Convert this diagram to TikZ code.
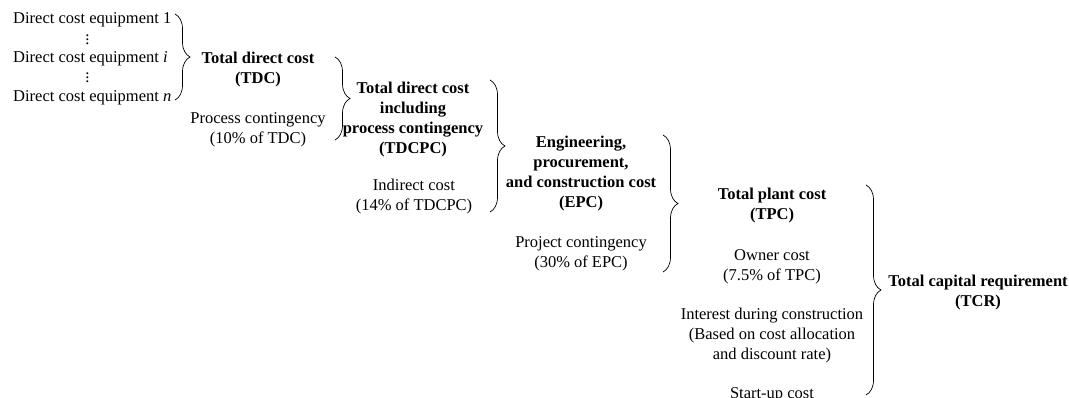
\documentclass[tikz,border=0pt]{standalone}
\usepackage{fontspec}
\setmainfont{Liberation Serif}
\usetikzlibrary{decorations.pathreplacing}
\newcommand{\eqdots}{\vbox{\baselineskip4pt \lineskiplimit0pt \hbox{.}\hbox{.}\hbox{.}}}
\tikzset{cost/.style = {align=center, inner sep=0pt, font=\fontsize{16.5}{20}\selectfont}}
\tikzset{total/.style = {cost, font=\fontsize{16.5}{20}\selectfont\bfseries}}
\tikzset{sumbrace/.style = {decorate, decoration={brace, amplitude=15pt}, line width=0.7pt}}

\begin{document}
\begin{tikzpicture}[x=1pt, y=-1pt]
            \useasboundingbox (0,0) rectangle (1069,398);
            \clip (0,0) rectangle (1069,398);

            % equipment items
            \node [cost, anchor=west] (eq1) at (13, 20) {Direct cost equipment 1};
            \node [cost, anchor=west] (eqi) at (13, 59) {Direct cost equipment \textit{i}};
            \node [cost, anchor=west] (eqn) at (13, 98) {Direct cost equipment \textit{n}};
            \node [cost] (dots1) at (87.5, 40) {\eqdots};
            \node [cost] (dots2) at (87.5, 78) {\eqdots};

            % cost levels
            \node [total] (tdc)    at (258,  70) {Total direct cost\\(TDC)};
            \node [cost]  (pcont)  at (258, 130) {Process contingency\\(10\% of TDC)};
            \node [total] (tdcpc)  at (413, 120) {Total direct cost\\including\\process contingency\\(TDCPC)};
            \node [cost]  (indir)  at (414, 197) {Indirect cost\\(14\% of TDCPC)};
            \node [total] (epc)    at (581, 174) {Engineering,\\procurement,\\and construction cost\\(EPC)};
            \node [cost]  (pjcont) at (581, 254) {Project contingency\\(30\% of EPC)};
            \node [total] (tpc)    at (772, 206) {Total plant cost\\(TPC)};
            \node [cost]  (owner)  at (772, 267) {Owner cost\\(7.5\% of TPC)};
            \node [cost]  (idc)    at (772, 336) {Interest during construction\\(Based on cost allocation\\and discount rate)};
            \node [cost]  (start)  at (772, 395) {Start-up cost};
            \node [total] (tcr)    at (978, 293) {Total capital requirement\\(TCR)};

            % brace ends
            \coordinate (b1t) at (175,  14);
            \coordinate (b1b) at (175, 100);
            \coordinate (b2t) at (335,  57);
            \coordinate (b2b) at (335, 140);
            \coordinate (b3t) at (490,  80);
            \coordinate (b3b) at (490, 212);
            \coordinate (b4t) at (663, 135);
            \coordinate (b4b) at (663, 272);
            \coordinate (b5t) at (866, 185);
            \coordinate (b5b) at (866, 395);

            \draw [sumbrace] (b1t) -- (b1b);
            \draw [sumbrace] (b2t) -- (b2b);
            \draw [sumbrace] (b3t) -- (b3b);
            \draw [sumbrace] (b4t) -- (b4b);
            \draw [sumbrace] (b5t) -- (b5b);
        \end{tikzpicture}
\end{document}
